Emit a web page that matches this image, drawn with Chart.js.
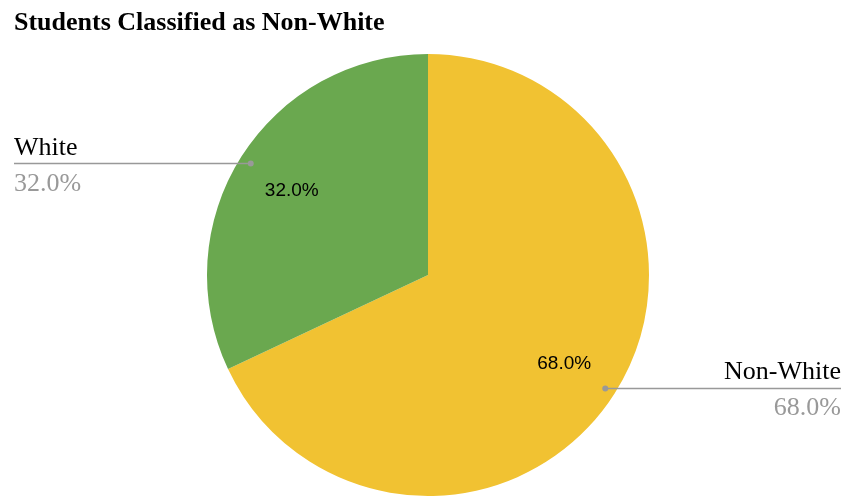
<!DOCTYPE html>
<html>
<head>
<meta charset="utf-8">
<script src="https://cdn.jsdelivr.net/npm/chart.js@4"></script>
<style>
  html, body { margin: 0; padding: 0; background: #fff; }
  #wrap { width: 844px; height: 497px; position: relative; }
</style>
</head>
<body>
<div id="wrap"><canvas id="myChart"></canvas></div>
<script>
let title = 'Students Classified as Non-White';
let labels = ['Non-White', 'White'];
let values = [68.0, 32.0];
let colorHex = ['#f1c232', '#6aa84f'];

// draws title, inner percentages and leader-line labels
const pieLabels = {
  id: 'pieLabels',
  afterDraw(chart) {
    const c = chart.ctx;
    const meta = chart.getDatasetMeta(0);
    const total = values.reduce((a, b) => a + b, 0);

    c.save();
    c.fillStyle = '#000';
    c.font = 'bold 26px "Liberation Serif", serif';
    c.textAlign = 'left';
    c.textBaseline = 'alphabetic';
    c.fillText(title, 14, 30);

    meta.data.forEach((arc, i) => {
      const p = arc.getProps(['x', 'y', 'startAngle', 'endAngle', 'outerRadius'], true);
      const mid = (p.startAngle + p.endAngle) / 2;
      const pct = (values[i] / total * 100).toFixed(1) + '%';

      // inside label
      c.fillStyle = '#000';
      c.font = '19px "Liberation Sans", Arial, sans-serif';
      c.textAlign = 'center';
      c.textBaseline = 'middle';
      c.fillText(pct, p.x + Math.cos(mid) * p.outerRadius * 0.73, p.y + Math.sin(mid) * p.outerRadius * 0.73 + 2);

      // leader line
      const ax = p.x + Math.cos(mid) * p.outerRadius * 0.95;
      const ay = p.y + Math.sin(mid) * p.outerRadius * 0.95 + 1;
      const right = Math.cos(mid) > 0;
      const ex = right ? 841 : 14;
      c.strokeStyle = '#999';
      c.lineWidth = 1.5;
      c.beginPath();
      c.moveTo(ax, ay);
      c.lineTo(ex, ay);
      c.stroke();
      c.fillStyle = '#999';
      c.beginPath();
      c.arc(ax, ay, 3, 0, Math.PI * 2);
      c.fill();

      c.textAlign = right ? 'right' : 'left';
      c.textBaseline = 'alphabetic';
      c.font = '26px "Liberation Serif", serif';
      c.fillStyle = '#000';
      c.fillText(labels[i], ex, ay - 9);
      c.fillStyle = '#999';
      c.fillText(pct, ex, ay + 27);
    });
    c.restore();
  }
};

let ctx = document.getElementById('myChart').getContext('2d');
let myChart = new Chart(ctx, {
  type: 'pie',
  data: {
    labels: labels,
    datasets: [{
      data: values,
      backgroundColor: colorHex,
      borderWidth: 0
    }]
  },
  options: {
    responsive: true,
    maintainAspectRatio: false,
    animation: false,
    layout: { padding: { top: 54, bottom: 1, left: 207, right: 195 } },
    plugins: {
      legend: { display: false },
      tooltip: { enabled: false }
    }
  },
  plugins: [pieLabels]
});
</script>
</body>
</html>
